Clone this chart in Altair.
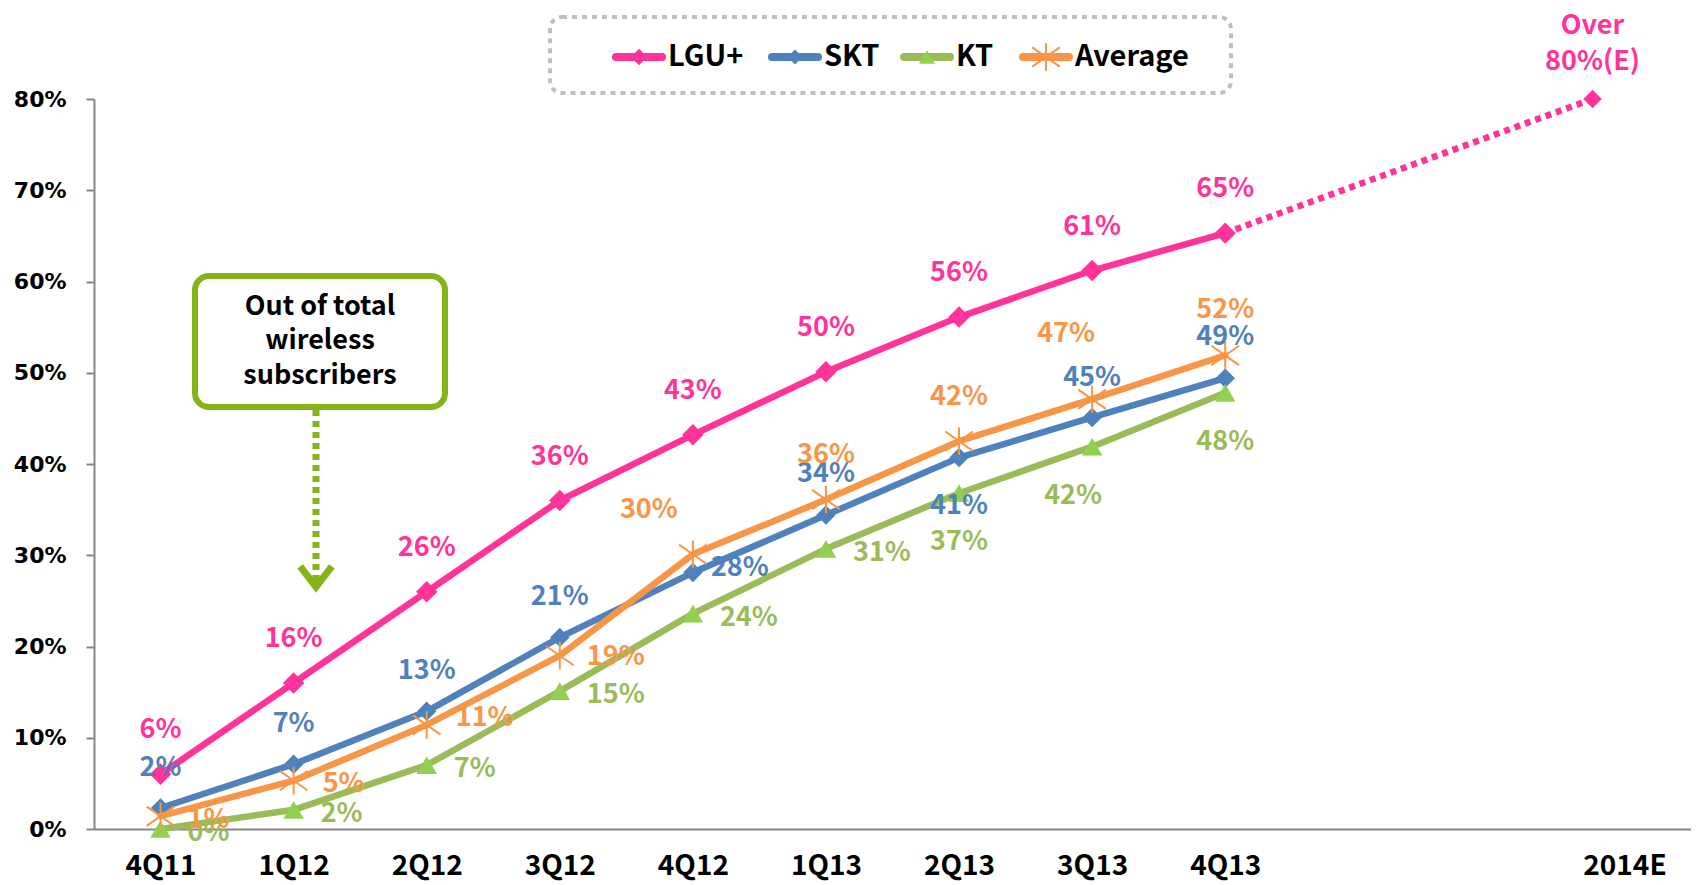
import json
import altair as alt
import pandas as pd

# ---------------- data ----------------
periods = ["4Q11", "1Q12", "2Q12", "3Q12", "4Q12", "1Q13", "2Q13", "3Q13", "4Q13"]
period_pos = [0, 1, 2, 3, 4, 5, 6, 7, 8]
series_names = ["LGU+", "SKT", "KT", "Average"]
lgu_values = [6.0, 16.0, 26.0, 36.0, 43.2, 50.1, 56.1, 61.2, 65.3]
skt_values = [2.3, 7.1, 12.9, 21.0, 28.1, 34.4, 40.7, 45.1, 49.4]
kt_values = [0.0, 2.1, 7.0, 15.1, 23.6, 30.7, 36.8, 41.9, 47.8]
avg_values = [1.4, 5.3, 11.4, 19.0, 30.1, 36.1, 42.5, 47.1, 51.9]
forecast_period = "2014E"
forecast_pos = 10.76
forecast_value = 80.0
forecast_text = ["Over", "80%(E)"]
x_tick_pos = [0, 1, 2, 3, 4, 5, 6, 7, 8, 11]
x_tick_labels = periods + [forecast_period]
y_ticks = [0, 10, 20, 30, 40, 50, 60, 70, 80]
annotation_lines = ["Out of total", "wireless", "subscribers"]

values_by_series = {"LGU+": lgu_values, "SKT": skt_values, "KT": kt_values, "Average": avg_values}

# ---------------- styles / layout ----------------
LINE_COLORS = {"LGU+": "#FF3399", "SKT": "#4F81BD", "KT": "#9BBB59", "Average": "#F79646"}
MARKER_COLORS = {"LGU+": "#FF3399", "SKT": "#4F81BD", "KT": "#92D050", "Average": "#F79646"}
ASTERISK = "M-1,-0.7L1,0.7M-1,0.7L1,-0.7M0,-1L0,1"
SHAPES = {"LGU+": "diamond", "SKT": "diamond", "KT": "triangle-up", "Average": ASTERISK}
MARKER_SIZES = {"LGU+": 460, "SKT": 380, "KT": 420, "Average": 760}
LABEL_FONT = "Noto Sans CJK KR"
GREEN = "#86B21A"

label_layout = {
    "LGU+": [(0, -44, "center")] * 9,
    "SKT": [(0, -40, "center")] * 4 + [(47, -5, "center"), (0, -41, "center"), (0, 48, "center"),
                                        (0, -39, "center"), (0, -41, "center")],
    "KT": [(27, 4, "left")] * 6 + [(0, 49, "center"), (-19, 49, "center"), (0, 49, "center")],
    "Average": [(27, 4, "left"), (29, 3, "left"), (29, -7, "left"), (27, 1, "left"),
                (-44, -44, "center"), (0, -45, "center"), (0, -44, "center"),
                (-26, -65, "center"), (0, -45, "center")],
}

W, H = 1597, 730

lookup = {p: l for p, l in zip(x_tick_pos, x_tick_labels)}
label_arr = [lookup.get(i, "") for i in range(12)]
x_label_expr = json.dumps(label_arr) + "[datum.value]"

xscale = alt.Scale(domain=[-0.5, 11.5], nice=False, zero=False)
yscale = alt.Scale(domain=[0, 80], nice=False, zero=True)
xaxis = alt.Axis(values=x_tick_pos, labelExpr=x_label_expr, ticks=False, grid=False,
                 domainColor="#868686", domainWidth=2, labelFont=LABEL_FONT,
                 labelFontSize=28, labelFontWeight="bold", labelColor="black", labelPadding=23,
                 labelOverlap=False, labelFlush=False, title=None)
yaxis = alt.Axis(values=y_ticks, labelExpr="datum.value + '%'", tickSize=8, tickWidth=2,
                 tickColor="#868686", domainColor="#868686", domainWidth=2, grid=False,
                 labelFont="DejaVu Sans", labelFontWeight="bold", labelFontSize=22,
                 labelColor="black", labelPadding=20, title=None)

X = alt.X("pos:Q", scale=xscale, axis=xaxis)
Y = alt.Y("value:Q", scale=yscale, axis=yaxis)

layers = []

# projection (drawn first)
proj_df = pd.DataFrame({"pos": [period_pos[-1], forecast_pos], "value": [lgu_values[-1], forecast_value]})
layers.append(alt.Chart(proj_df).mark_line(color="#FF3399", strokeWidth=6.5, strokeDash=[6, 5],
                                           strokeCap="butt").encode(x=X, y=Y))
fc_df = pd.DataFrame({"pos": [forecast_pos], "value": [forecast_value]})
layers.append(alt.Chart(fc_df).mark_point(shape="diamond", filled=True, size=340, color="#FF3399",
                                          opacity=1).encode(x=X, y=Y))
for txt, dy in zip(forecast_text, [-73, -37]):
    d = pd.DataFrame({"pos": [forecast_pos], "value": [forecast_value], "t": [txt]})
    layers.append(alt.Chart(d).mark_text(font=LABEL_FONT, fontSize=27, fontWeight="bold",
                                         color="#FF3399", dy=dy, baseline="middle",
                                         align="center").encode(x=X, y=Y, text="t:N"))

frames = {}
for s in series_names:
    df = pd.DataFrame({"pos": period_pos, "value": values_by_series[s]})
    df["label"] = [f"{round(v)}%" for v in df["value"]]
    lay = label_layout[s]
    df["dx"] = [l[0] for l in lay]
    df["dy"] = [l[1] for l in lay]
    df["align"] = [l[2] for l in lay]
    frames[s] = df
    layers.append(alt.Chart(df).mark_line(color=LINE_COLORS[s], strokeWidth=6.5, strokeJoin="round",
                                          strokeCap="round").encode(x=X, y=Y))
    if s == "Average":
        pt = alt.Chart(df).mark_point(shape=SHAPES[s], filled=False, size=MARKER_SIZES[s],
                                      color=MARKER_COLORS[s], strokeWidth=2, opacity=1)
    else:
        pt = alt.Chart(df).mark_point(shape=SHAPES[s], filled=True, size=MARKER_SIZES[s],
                                      color=MARKER_COLORS[s], opacity=1)
    layers.append(pt.encode(x=X, y=Y))

for s in series_names:
    df = frames[s]
    for (dx, dy, align), g in df.groupby(["dx", "dy", "align"]):
        layers.append(alt.Chart(g[["pos", "value", "label"]]).mark_text(
            font=LABEL_FONT, fontSize=27, fontWeight="bold", color=LINE_COLORS[s],
            dx=int(dx), dy=int(dy), align=align, baseline="middle").encode(x=X, y=Y, text="label:N"))

# legend box
one = pd.DataFrame({"t": [""]})
layers.append(alt.Chart(one).mark_rect(fill="white", stroke="#BFBFBF", strokeWidth=4,
                                       strokeDash=[5, 5], cornerRadius=12).encode(
    x=alt.value(456), x2=alt.value(1137), y=alt.value(-82), y2=alt.value(-6)))
legend_x = {"LGU+": 518, "SKT": 674, "KT": 806, "Average": 925}
LEG_Y = -42
for s in series_names:
    x0 = legend_x[s]
    layers.append(alt.Chart(one).mark_rule(color=LINE_COLORS[s], strokeWidth=8, strokeCap="round").encode(
        x=alt.value(x0 + 4), x2=alt.value(x0 + 50), y=alt.value(LEG_Y)))
    if s == "Average":
        mk = alt.Chart(one).mark_point(shape=SHAPES[s], filled=False, size=MARKER_SIZES[s],
                                       color=MARKER_COLORS[s], strokeWidth=2, opacity=1)
    else:
        mk = alt.Chart(one).mark_point(shape=SHAPES[s], filled=True, size=MARKER_SIZES[s] * 0.6,
                                       color=MARKER_COLORS[s], opacity=1)
    layers.append(mk.encode(x=alt.value(x0 + 27), y=alt.value(LEG_Y)))
    td = pd.DataFrame({"t": [s]})
    layers.append(alt.Chart(td).mark_text(font=LABEL_FONT, fontSize=29, fontWeight="bold", color="black",
                                          align="left", baseline="middle").encode(
        x=alt.value(x0 + 56), y=alt.value(LEG_Y), text="t:N"))

# annotation box + arrow
layers.append(alt.Chart(one).mark_rect(fill="white", stroke=GREEN, strokeWidth=6,
                                       cornerRadius=14).encode(
    x=alt.value(101), x2=alt.value(351), y=alt.value(177), y2=alt.value(308)))
for line, yy in zip(annotation_lines, [208, 242, 277]):
    td = pd.DataFrame({"t": [line]})
    layers.append(alt.Chart(td).mark_text(font=LABEL_FONT, fontSize=27, fontWeight="bold", color="black",
                                          align="center", baseline="middle").encode(
        x=alt.value(226), y=alt.value(yy), text="t:N"))
layers.append(alt.Chart(one).mark_rule(color=GREEN, strokeWidth=7, strokeDash=[6, 5],
                                       strokeCap="butt").encode(
    x=alt.value(222), y=alt.value(311), y2=alt.value(486)))
layers.append(alt.Chart(one).mark_point(shape="M-1,-1.3L0,0L1,-1.3", filled=False, size=1000,
                                        color=GREEN, strokeWidth=7, opacity=1).encode(
    x=alt.value(222), y=alt.value(488)))

chart = alt.layer(*layers).properties(
    width=W, height=H,
    autosize=alt.AutoSizeParams(type="none"),
    padding={"left": 86, "top": 91, "right": 0, "bottom": 56},
).configure_view(stroke=None)

chart.save("out.html", embed_options={"renderer": "svg", "actions": False})
